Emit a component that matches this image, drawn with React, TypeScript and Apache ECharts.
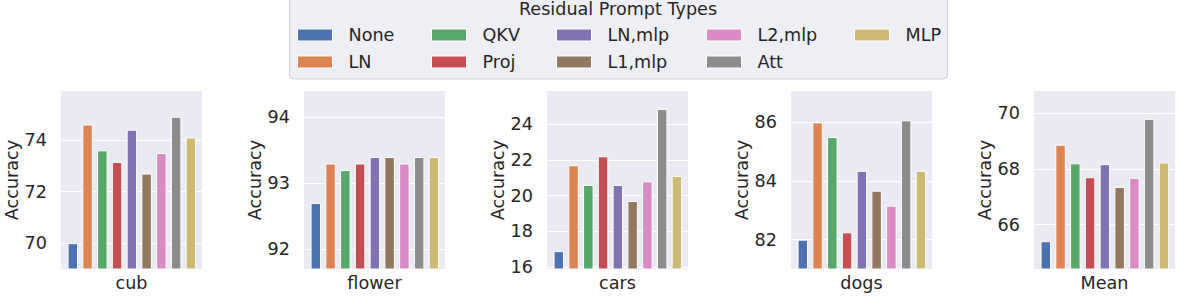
import React, { useEffect, useRef } from "react";
import * as echarts from "echarts";

const categories = ["cub", "flower", "cars", "dogs", "Mean"];
const promptTypes = ["None", "LN", "QKV", "Proj", "LN,mlp", "L1,mlp", "L2,mlp", "Att", "MLP"];
const colors = ["#4C72B0", "#DD8452", "#55A868", "#C44E52", "#8172B3", "#937860", "#DA8BC3", "#8C8C8C", "#CCB974"];

const cubValues = [70.0, 74.6, 73.6, 73.15, 74.4, 72.7, 73.5, 74.9, 74.1];
const flowerValues = [92.7, 93.3, 93.2, 93.3, 93.4, 93.4, 93.3, 93.4, 93.4];
const carsValues = [16.9, 21.7, 20.6, 22.2, 20.6, 19.7, 20.8, 24.85, 21.1];
const dogsValues = [82.0, 86.0, 85.5, 82.25, 84.35, 83.67, 83.16, 86.07, 84.35];
const meanValues = [65.4, 68.87, 68.2, 67.7, 68.17, 67.35, 67.68, 69.8, 68.23];

const cubTicks = [70, 72, 74];
const flowerTicks = [92, 93, 94];
const carsTicks = [16, 18, 20, 22, 24];
const dogsTicks = [82, 84, 86];
const meanTicks = [66, 68, 70];

const allValues = [cubValues, flowerValues, carsValues, dogsValues, meanValues];
const allTicks = [cubTicks, flowerTicks, carsTicks, dogsTicks, meanTicks];

const FONT = "DejaVu Sans";
const TEXT = "#262626";
const FS = 17.6;

export default function App() {
  const ref = useRef<HTMLDivElement>(null);
  useEffect(() => {
    if (!ref.current) return;
    const chart = echarts.init(ref.current, undefined, { renderer: "svg" });
    const gridLefts = [61, 304, 547, 791, 1034];
    const grids = gridLefts.map((l) => ({
      left: l,
      width: 141,
      top: 91,
      bottom: 31,
      show: true,
      backgroundColor: "#EAEAF2",
      borderWidth: 0,
      containLabel: false,
    }));
    const xAxes = categories.map((c, g) => ({
      type: "value",
      gridIndex: g,
      min: -0.8,
      max: 8.75,
      name: c,
      nameLocation: "middle",
      nameGap: 5,
      nameTextStyle: { fontFamily: FONT, fontSize: FS, color: TEXT },
      axisLine: { show: false },
      axisTick: { show: false },
      axisLabel: { show: false },
      splitLine: { show: false },
    }));
    const yAxes = categories.map((c, g) => {
      const vals = allValues[g];
      return {
        type: "value",
        gridIndex: g,
        min: Math.min(...vals) - 1,
        max: Math.max(...vals) + 1,
        name: "Accuracy",
        nameLocation: "middle",
        nameGap: 38,
        nameTextStyle: { fontFamily: FONT, fontSize: FS, color: TEXT },
        axisLine: { show: false },
        axisTick: { show: false, customValues: allTicks[g] },
        axisLabel: {
          customValues: allTicks[g],
          fontFamily: FONT,
          fontSize: FS,
          color: TEXT,
          margin: 14,
          showMinLabel: true,
          showMaxLabel: true,
        },
        splitLine: { show: true, lineStyle: { color: "#ffffff", width: 1.2 } },
      };
    });
    const series: any[] = [];
    categories.forEach((c, g) => {
      promptTypes.forEach((t, i) => {
        series.push({
          type: "bar",
          name: t,
          xAxisIndex: g,
          yAxisIndex: g,
          barWidth: 10.5,
          barGap: "-100%",
          itemStyle: { color: colors[i], borderColor: "#ffffff", borderWidth: 1 },
          data: [[i, allValues[g][i]]],
        });
      });
    });
    const colX = [297, 431, 556, 706, 854];
    const rowY = [35, 62];
    const legends = promptTypes.map((t, i) => ({
      show: true,
      data: [t],
      left: colX[Math.floor(i / 2)],
      top: rowY[i % 2] - 10,
      padding: 0,
      itemWidth: 35,
      itemHeight: 12,
      icon: "rect",
      selectedMode: false,
      z: 10,
      itemStyle: { borderColor: "#ffffff", borderWidth: 1 },
      textStyle: { fontFamily: FONT, fontSize: FS, color: TEXT, lineHeight: 20, padding: [0, 0, 0, 11] },
    }));
    chart.setOption({
      animation: false,
      color: colors,
      textStyle: { fontFamily: FONT },
      grid: grids,
      xAxis: xAxes,
      yAxis: yAxes,
      legend: legends,
      series,
      graphic: [
        {
          type: "rect",
          z: 0,
          shape: { x: 289.5, y: -10, width: 658, height: 89, r: 4 },
          style: { fill: "#EEEEF5", stroke: "#D4D4D4", lineWidth: 1 },
        },
        {
          type: "text",
          z: 1,
          x: 618,
          y: 9,
          style: {
            text: "Residual Prompt Types",
            fontFamily: FONT,
            fontSize: FS,
            fill: TEXT,
            align: "center",
            verticalAlign: "middle",
          },
        },
      ],
    });
    return () => chart.dispose();
  }, []);
  return (
    <div
      ref={ref}
      style={{ position: "fixed", left: 0, top: 0, width: 1200, height: 300, background: "#ffffff" }}
    />
  );
}
